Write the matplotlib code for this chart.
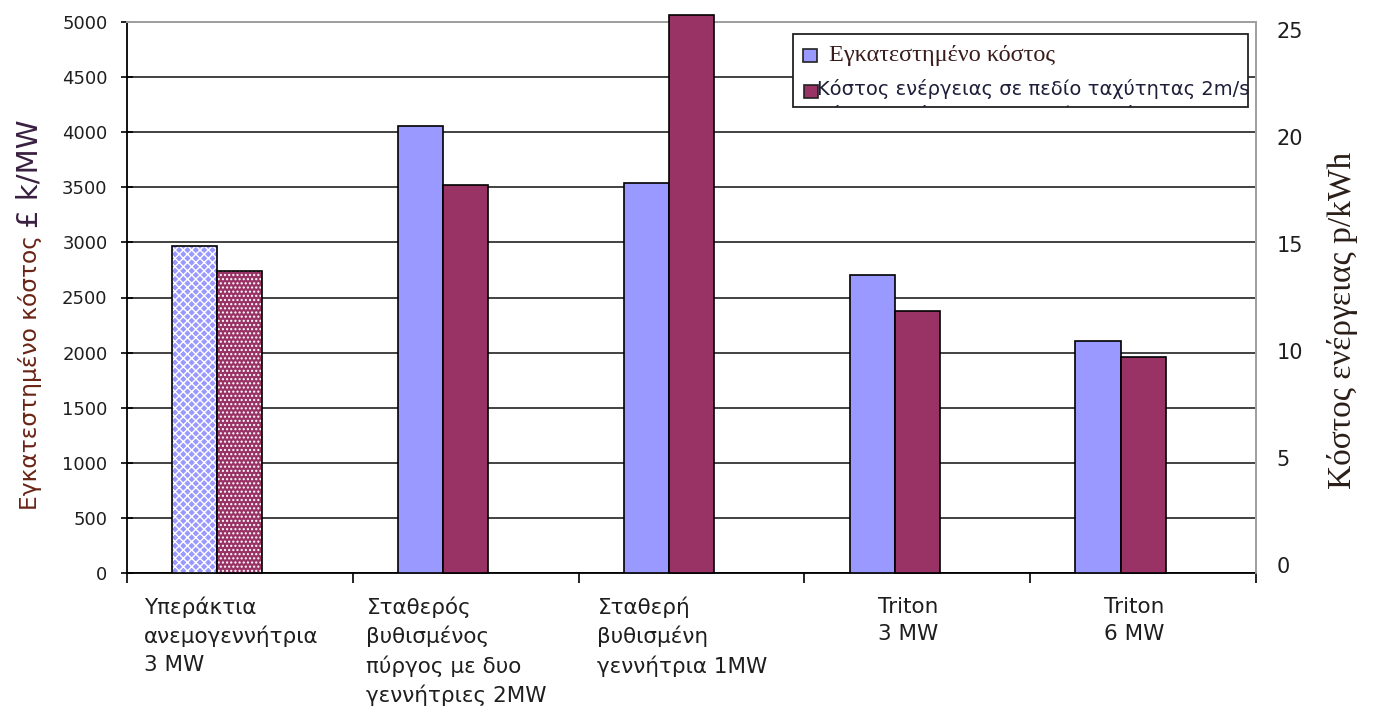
"""Cost comparison of offshore wind concepts: installed cost vs energy cost."""
import matplotlib
matplotlib.use("Agg")
import matplotlib.pyplot as plt
import matplotlib.transforms as mtransforms
from matplotlib.patches import Rectangle
import numpy as np

# Data
categories = [
    "Υπεράκτια\nανεμογεννήτρια\n3 MW",
    "Σταθερός\nβυθισμένος\nπύργος με δυο\nγεννήτριες 2MW",
    "Σταθερή\nβυθισμένη\nγεννήτρια 1MW",
    "Triton\n3 MW",
    "Triton\n6 MW",
]
installed_cost = [2970, 4060, 3540, 2700, 2105]      # £ k/MW (left axis)
energy_cost_2ms = [13.7, 17.6, 25.3, 11.9, 9.8]      # p/kWh (right axis)

series_names = [
    "Εγκατεστημένο κόστος",
    "Κόστος ενέργειας σε πεδίο ταχύτητας 2m/s",
    "Κόστος ενέργειας σε πεδίο ταχύτητας 3m/s",
]

left_ticks = np.arange(0, 5001, 500)
right_ticks = np.arange(0, 26, 5)

BLUE = "#9999FF"
MAROON = "#993366"
TEXT = "#1e1e1e"

W, H = 1373, 706
fig = plt.figure(figsize=(W / 100, H / 100), dpi=100)
ax = fig.add_axes([127 / W, 133 / H, 1129 / W, 551 / H])
ax2 = ax.twinx()

x = np.arange(len(categories))
bw = 0.2

# hatch pattern only on the first (conventional turbine) group
hatches_blue = ["xxxx", None, None, None, None]
hatches_maroon = ["....", None, None, None, None]

plt.rcParams["hatch.linewidth"] = 1.0

for i in range(len(categories)):
    if hatches_blue[i]:
        ax.bar(x[i] - bw, installed_cost[i], bw, color=BLUE, edgecolor="white",
               hatch=hatches_blue[i], linewidth=0, zorder=3)
        ax.bar(x[i] - bw, installed_cost[i], bw, fill=False, edgecolor="black",
               linewidth=1.2, zorder=4)
    else:
        ax.bar(x[i] - bw, installed_cost[i], bw, color=BLUE, edgecolor="black",
               linewidth=1.2, zorder=3)

for i in range(len(categories)):
    if hatches_maroon[i]:
        ax2.bar(x[i], energy_cost_2ms[i], bw, color=MAROON, edgecolor="white",
                hatch=hatches_maroon[i], linewidth=0, zorder=3, clip_on=False)
        ax2.bar(x[i], energy_cost_2ms[i], bw, fill=False, edgecolor="black",
                linewidth=1.2, zorder=4, clip_on=False)
    else:
        ax2.bar(x[i], energy_cost_2ms[i], bw, color=MAROON, edgecolor="black",
                linewidth=1.2, zorder=3, clip_on=False)

# Left axis
ax.set_xlim(-0.5, len(categories) - 0.5)
ax.set_ylim(0, 5000)
ax.set_yticks(left_ticks)
ax.tick_params(axis="y", direction="inout", length=8, width=1.2, pad=10,
               labelsize=13, labelcolor=TEXT)
ax.grid(axis="y", color="#333333", linewidth=1.3, zorder=0)
ax.set_axisbelow(True)

# Category labels between boundary ticks
ax.set_xticks(x)
ax.set_xticklabels(categories, fontsize=15.5, color=TEXT, multialignment="left",
                   linespacing=1.45, va="top")
ax.set_xticks(np.arange(-0.5, len(categories)), minor=True)
ax.tick_params(axis="x", which="major", length=0, pad=17)
ax.tick_params(axis="x", which="minor", direction="out", length=7, width=1.2)
shift = mtransforms.ScaledTranslation(-9 / 100, 0, fig.dpi_scale_trans)
for lbl in ax.get_xticklabels():
    lbl.set_transform(lbl.get_transform() + shift)

for side in ("left", "bottom"):
    ax.spines[side].set_color("black")
    ax.spines[side].set_linewidth(1.3)
for side in ("top", "right"):
    ax.spines[side].set_color("#a0a0a0")
    ax.spines[side].set_linewidth(1.3)

# Right axis: labels sit slightly inside the axis span
ax2.set_ylim(0, 25)
ax2.set_yticks(right_ticks)
ax2.tick_params(axis="y", length=0, pad=15, labelsize=15, labelcolor=TEXT)
n_right = len(right_ticks) - 1
for k, lbl in enumerate(ax2.get_yticklabels()):
    dy = (8 - 16 * k / n_right) / 100
    lbl.set_transform(lbl.get_transform()
                      + mtransforms.ScaledTranslation(0, dy, fig.dpi_scale_trans))
for side in ("left", "bottom"):
    ax2.spines[side].set_visible(False)
ax2.spines["top"].set_color("#a0a0a0")
ax2.spines["right"].set_color("#a0a0a0")
ax2.spines["top"].set_linewidth(1.3)
ax2.spines["right"].set_linewidth(1.3)

# Axis titles
t1 = fig.text(30 / W, 1 - 510 / H, "Εγκατεστημένο κόστος ", rotation=90,
              ha="center", va="bottom", fontsize=16.8, color="#6a2416")
ax.annotate("£ k/MW", xy=(0.5, 1.0), xycoords=t1, rotation=90, ha="center",
            va="bottom", fontsize=21, color="#3a2040", annotation_clip=False)
fig.text(1342 / W, 1 - 320 / H, "Κόστος ενέργειας p/kWh", rotation=90,
         ha="center", va="center", fontsize=24, color="#2a1e18",
         family="Liberation Serif")

# Legend box; third entry is cut off by the frame
box = Rectangle((793 / W, 1 - 107 / H), 455 / W, 73 / H, transform=fig.transFigure,
                facecolor="white", edgecolor="#222222", linewidth=1.3, zorder=5)
fig.patches.append(box)
fig.patches.append(Rectangle((803 / W, 1 - 62 / H), 14 / W, 13 / H,
                             transform=fig.transFigure, facecolor=BLUE,
                             edgecolor="#222222", linewidth=1.2, zorder=6))
fig.patches.append(Rectangle((804 / W, 1 - 98 / H), 14 / W, 13 / H,
                             transform=fig.transFigure, facecolor=MAROON,
                             edgecolor="#222222", linewidth=1.2, zorder=6))
fig.text(829 / W, 1 - 55 / H, series_names[0], ha="left", va="center",
         fontsize=17.5, color="#3a1a1a", family="Liberation Serif", zorder=6)
fig.text(817 / W, 1 - 89 / H, series_names[1], ha="left", va="center",
         fontsize=14, color="#1e1e3a", zorder=6)
t3 = fig.text(817 / W, 1 - 115 / H, series_names[2], ha="left", va="center",
              fontsize=14, color="#1e1e3a", zorder=6)
t3.set_clip_path(box)

fig.savefig("out.png", dpi=100)
